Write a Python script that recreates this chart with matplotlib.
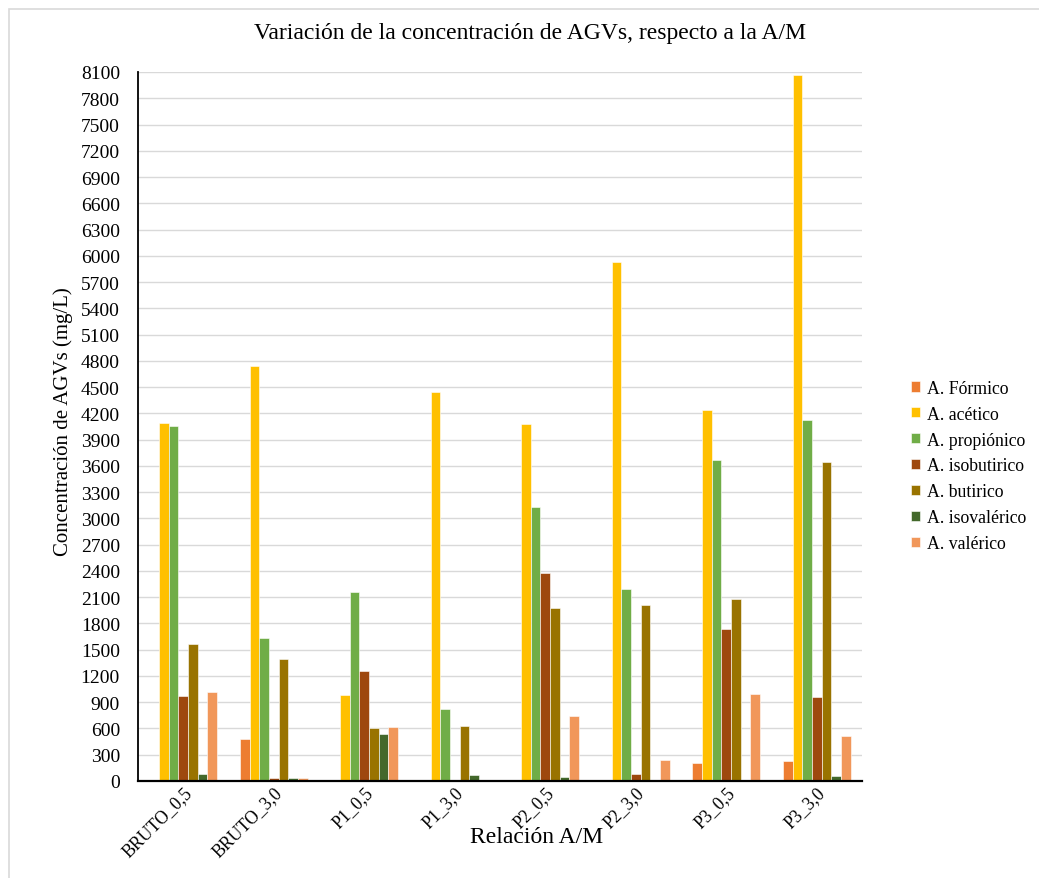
import matplotlib
matplotlib.use("Agg")
import matplotlib.pyplot as plt
import numpy as np
from matplotlib.patches import Rectangle

# Sample groups (A/M ratio) and volatile fatty acid concentrations (mg/L)
categories = ["BRUTO_0,5", "BRUTO_3,0", "P1_0,5", "P1_3,0",
              "P2_0,5", "P2_3,0", "P3_0,5", "P3_3,0"]

formico     = [0,    480,  0,    0,    0,    0,    200,  230]
acetico     = [4090, 4740, 980,  4440, 4080, 5930, 4235, 8070]
propionico  = [4060, 1630, 2160, 820,  3130, 2190, 3670, 4125]
isobutirico = [970,  30,   1260, 0,    2380, 80,   1740, 960]
butirico    = [1560, 1390, 610,  630,  1980, 2010, 2080, 3645]
isovalerico = [80,   30,   540,  70,   40,   0,    0,    60]
valerico    = [1020, 30,   620,  0,    740,  240,  990,  510]

series_names = ["A. Fórmico", "A. acético", "A. propiónico", "A. isobutirico",
                "A. butirico", "A. isovalérico", "A. valérico"]
series_values = [formico, acetico, propionico, isobutirico,
                 butirico, isovalerico, valerico]
series_colors = ["#ED7D31", "#FFC000", "#70AD47", "#9E480E",
                 "#997300", "#43682B", "#F1975A"]

yticks = list(range(0, 8101, 300))

plt.rcParams['font.family'] = ['Liberation Serif', 'DejaVu Serif']

W, H = 1039, 879
fig = plt.figure(figsize=(W / 100, H / 100), dpi=100)

# light frame around the chart area (open at right and bottom)
fig.patches.append(Rectangle((9 / W, -0.1), 1.2, 1.1 - 10 / H, transform=fig.transFigure,
                             fill=False, edgecolor="#D9D9D9", linewidth=1.2, zorder=0))

ax = fig.add_axes([138 / W, (H - 782) / H, (862 - 138) / W, (782 - 73) / H])

x = np.arange(len(categories))
n = len(series_values)
bw = 0.107
offsets = (np.arange(n) - (n - 1) / 2) * bw

for vals, name, color, off in zip(series_values, series_names, series_colors, offsets):
    ax.bar(x + off, vals, width=bw, color=color, label=name,
           edgecolor="white", linewidth=0.4, zorder=3)

ax.set_xlim(-0.5, len(categories) - 0.5)
ax.set_ylim(0, 8100)
ax.set_yticks(yticks)
ax.set_yticklabels([str(v) for v in yticks], fontsize=14)
ax.set_xticks(x)
ax.set_xticklabels(categories, rotation=45, ha="right", rotation_mode="anchor", fontsize=12.8)
ax.tick_params(axis="y", length=0, pad=13)
ax.tick_params(axis="x", length=0, pad=2)

ax.grid(axis="y", color="#D9D9D9", linewidth=1.0, zorder=0)
ax.set_axisbelow(True)
for s in ["top", "right"]:
    ax.spines[s].set_visible(False)
for s in ["left", "bottom"]:
    ax.spines[s].set_color("black")
    ax.spines[s].set_zorder(5)
ax.spines["left"].set_linewidth(1.3)
ax.spines["bottom"].set_linewidth(1.6)

fig.text(63 / W, 1 - 422 / H, "Concentración de AGVs (mg/L)", fontsize=15,
         rotation=90, ha="center", va="center")
fig.text(537 / W, 1 - 838 / H, "Relación A/M", fontsize=17, ha="center", va="center")
fig.text(530 / W, 1 - 34 / H, "Variación de la concentración de AGVs, respecto a la A/M",
         fontsize=17, ha="center", va="center")

fig.legend(loc="center left", bbox_to_anchor=(895 / W, 1 - 467 / H), frameon=False,
           fontsize=12.8, handlelength=0.5, handleheight=0.5, handletextpad=0.4,
           labelspacing=0.5)

fig.savefig("out.png", dpi=100)
